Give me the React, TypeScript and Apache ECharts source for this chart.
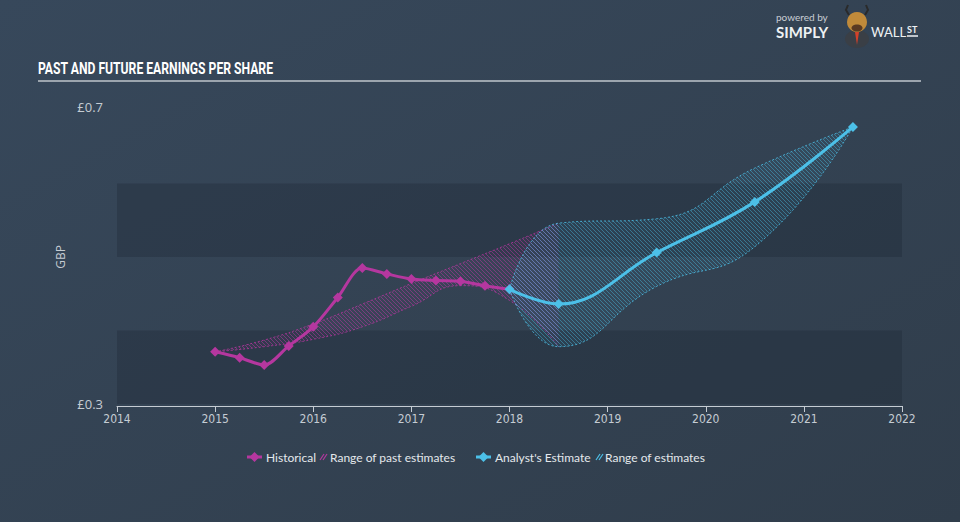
import React, { useEffect, useRef } from "react";
import * as echarts from "echarts";

// ---- data ----
const histYears = [2015, 2015.25, 2015.5, 2015.75, 2016, 2016.25, 2016.5, 2016.75, 2017, 2017.25, 2017.5, 2017.75, 2018];
const histEps = [0.371, 0.363, 0.353, 0.379, 0.405, 0.445, 0.485, 0.477, 0.470, 0.468, 0.467, 0.461, 0.456];

const estYears = [2018, 2018.5, 2019.5, 2020.5, 2021.5];
const estEps = [0.456, 0.436, 0.506, 0.575, 0.677];
const estLow = [0.456, 0.378, 0.460, 0.514, 0.677];
const estHigh = [0.456, 0.546, 0.552, 0.621, 0.677];

const pastYears = [2015, 2015.5, 2016, 2016.5, 2017, 2017.5, 2018, 2018.5];
const pastLow = [0.371, 0.378, 0.388, 0.405, 0.433, 0.461, 0.441, 0.378];
const pastHigh = [0.371, 0.387, 0.409, 0.436, 0.464, 0.491, 0.518, 0.546];

const yTickLabels = ["£0.3", "£0.7"];

const legendLabels = ["Historical", "Range of past estimates", "Analyst's Estimate", "Range of estimates"];

const MAGENTA = "#b5379f";
const CYAN = "#4cc0e8";
const NARROW = '"Liberation Sans Narrow", "DejaVu Sans Condensed", Roboto, sans-serif';

function hatch(color: string, bg: string) {
  const c = document.createElement("canvas");
  c.width = 4;
  c.height = 4;
  const ctx = c.getContext("2d")!;
  ctx.fillStyle = bg;
  ctx.fillRect(0, 0, 4, 4);
  ctx.strokeStyle = color;
  ctx.lineWidth = 1;
  ctx.beginPath();
  ctx.moveTo(0, 0);
  ctx.lineTo(4, 4);
  ctx.moveTo(-1, 3);
  ctx.lineTo(1, 5);
  ctx.moveTo(3, -1);
  ctx.lineTo(5, 1);
  ctx.stroke();
  return { image: c, repeat: "repeat" } as any;
}

// data rows are [eps, year] so that the stack is taken on the eps dimension
const rows = (xs: number[], ys: number[]) => xs.map((x, i) => [ys[i], x]);
const diffRows = (xs: number[], hi: number[], lo: number[]) => xs.map((x, i) => [+(hi[i] - lo[i]).toFixed(4), x]);

export default function App() {
  const ref = useRef<HTMLDivElement>(null);
  useEffect(() => {
    const chart = echarts.init(ref.current!, undefined, { renderer: "svg" });
    const magHatch = hatch("rgba(185,58,165,0.5)", "rgba(181,55,159,0.05)");
    const cyanHatch = hatch("rgba(76,192,232,0.42)", "rgba(76,192,232,0.06)");
    const lx = [247, 320, 476, 596];
    const tx = [266, 330, 495, 605];
    const ly = 457;
    const diamond = (cx: number, cy: number, r: number) => [[cx, cy - r], [cx + r, cy], [cx, cy + r], [cx - r, cy]];
    const labelFont = { fontFamily: "Lato", fontSize: 12, fill: "#e4e8ec" };
    const bandCommon = {
      type: "line",
      smooth: 0.5,
      symbol: "none",
      silent: true,
      dimensions: ["eps", "year"],
      encode: { x: "year", y: "eps" },
    };

    const option: any = {
      animation: false,
      backgroundColor: {
        type: "linear", x: 0, y: 0, x2: 1, y2: 1,
        colorStops: [{ offset: 0, color: "#37485b" }, { offset: 1, color: "#303d4b" }],
      },
      grid: { left: 117, right: 58, top: 110, bottom: 118 },
      xAxis: {
        type: "value",
        min: 2014,
        max: 2022,
        interval: 1,
        offset: 2,
        axisLine: { show: true, lineStyle: { color: "#c5ccd3", width: 1 } },
        axisTick: { show: true, length: 6, lineStyle: { color: "#c5ccd3" } },
        splitLine: { show: false },
        axisLabel: {
          color: "#c5ccd3",
          fontFamily: NARROW,
          fontSize: 12,
          margin: 7,
          formatter: (v: number) => String(v),
        },
      },
      yAxis: {
        type: "value",
        min: 0.3,
        max: 0.7,
        interval: 0.1,
        name: "GBP",
        nameLocation: "middle",
        nameGap: 33,
        nameRotate: 90,
        nameTextStyle: { color: "#c5ccd3", fontFamily: "Open Sans", fontSize: 12 },
        axisLine: { show: false },
        axisTick: { show: false },
        splitLine: { show: false },
        splitArea: { show: true, areaStyle: { color: ["rgba(28,38,50,0.30)", "rgba(0,0,0,0)"] } },
        axisLabel: {
          color: "#c5ccd3",
          fontFamily: "Open Sans",
          fontSize: 13,
          margin: 14,
          verticalAlign: "middle",
          formatter: (v: number) => {
            if (Math.abs(v - 0.3) < 1e-6) return yTickLabels[0];
            if (Math.abs(v - 0.7) < 1e-6) return "{top|" + yTickLabels[1] + "}";
            return "";
          },
          rich: { top: { color: "#c5ccd3", fontFamily: "Open Sans", fontSize: 13, padding: [0, 0, 6, 0] } },
        },
      },
      series: [
        {
          ...bandCommon,
          name: "pastLow",
          stack: "past",
          data: rows(pastYears, pastLow),
          lineStyle: { color: MAGENTA, width: 1, type: [2, 2], opacity: 0.8 },
          z: 1,
        },
        {
          ...bandCommon,
          name: legendLabels[1],
          stack: "past",
          data: diffRows(pastYears, pastHigh, pastLow),
          lineStyle: { color: MAGENTA, width: 1, type: [2, 2], opacity: 0.8 },
          areaStyle: { color: magHatch, opacity: 1 },
          z: 1,
        },
        {
          ...bandCommon,
          name: "estLow",
          stack: "est",
          data: rows(estYears, estLow),
          lineStyle: { color: CYAN, width: 1, type: [2, 2], opacity: 0.8 },
          z: 2,
        },
        {
          ...bandCommon,
          name: legendLabels[3],
          stack: "est",
          data: diffRows(estYears, estHigh, estLow),
          lineStyle: { color: CYAN, width: 1, type: [2, 2], opacity: 0.8 },
          areaStyle: { color: cyanHatch, opacity: 1 },
          z: 2,
        },
        {
          name: legendLabels[0],
          type: "line",
          smooth: 0.3,
          symbol: "diamond",
          symbolSize: 10,
          data: histYears.map((x, i) => [x, histEps[i]]),
          itemStyle: { color: MAGENTA },
          lineStyle: { color: MAGENTA, width: 3 },
          z: 5,
        },
        {
          name: legendLabels[2],
          type: "line",
          smooth: 0.4,
          symbol: "diamond",
          symbolSize: 10,
          data: estYears.map((x, i) => [x, estEps[i]]),
          itemStyle: { color: CYAN },
          lineStyle: { color: CYAN, width: 3 },
          z: 6,
        },
      ],
      graphic: [
        {
          type: "text", x: 38, y: 60, scaleX: 0.76,
          style: { text: "PAST AND FUTURE EARNINGS PER SHARE", fontFamily: "Roboto", fontWeight: "bold", fontSize: 16, fill: "#ffffff" },
        },
        { type: "line", shape: { x1: 38, y1: 81, x2: 921, y2: 81 }, style: { stroke: "#9ca5ae", lineWidth: 2 } },
        // logo
        { type: "text", x: 776, y: 12, style: { text: "powered by", fontFamily: "Lato", fontSize: 10, fill: "#c9ced4" } },
        { type: "text", x: 776, y: 24, style: { text: "SIMPLY", fontFamily: "Lato", fontWeight: "bold", fontSize: 15, fill: "#eef1f3" } },
        { type: "ellipse", shape: { cx: 857, cy: 39, rx: 12, ry: 9 }, style: { fill: "#3a3f46" } },
        { type: "polygon", shape: { points: [[855, 32], [859, 32], [857, 45]] }, style: { fill: "#d2412a" } },
        { type: "circle", shape: { cx: 857, cy: 22, r: 10 }, style: { fill: "#c08a3a" } },
        { type: "ellipse", shape: { cx: 857, cy: 28, rx: 5.5, ry: 3.5 }, style: { fill: "#5a3a22" } },
        { type: "polyline", shape: { points: [[849, 15], [846, 10], [848, 5]] }, style: { stroke: "#2a2a2a", lineWidth: 2, fill: "none" } },
        { type: "polyline", shape: { points: [[865, 15], [868, 10], [866, 5]] }, style: { stroke: "#2a2a2a", lineWidth: 2, fill: "none" } },
        { type: "text", x: 871, y: 25, style: { text: "WALL", fontFamily: "Lato", fontWeight: "normal", fontSize: 13, fill: "#eef1f3" } },
        { type: "text", x: 907, y: 25, style: { text: "ST", fontFamily: "Lato", fontWeight: "bold", fontSize: 9, fill: "#eef1f3" } },
        { type: "line", shape: { x1: 907, y1: 36, x2: 918, y2: 36 }, style: { stroke: "#eef1f3", lineWidth: 1.5 } },
        // legend
        { type: "line", shape: { x1: lx[0], y1: ly, x2: lx[0] + 15, y2: ly }, style: { stroke: MAGENTA, lineWidth: 3 } },
        { type: "polygon", shape: { points: diamond(lx[0] + 7.5, ly, 5) }, style: { fill: MAGENTA } },
        { type: "text", x: tx[0], y: ly, style: { text: legendLabels[0], verticalAlign: "middle", ...labelFont } },
        { type: "line", shape: { x1: lx[1], y1: ly + 3, x2: lx[1] + 4, y2: ly - 3 }, style: { stroke: MAGENTA, lineWidth: 1.2 } },
        { type: "line", shape: { x1: lx[1] + 3, y1: ly + 3, x2: lx[1] + 7, y2: ly - 3 }, style: { stroke: MAGENTA, lineWidth: 1.2 } },
        { type: "text", x: tx[1], y: ly, style: { text: legendLabels[1], verticalAlign: "middle", ...labelFont } },
        { type: "line", shape: { x1: lx[2], y1: ly, x2: lx[2] + 15, y2: ly }, style: { stroke: CYAN, lineWidth: 3 } },
        { type: "polygon", shape: { points: diamond(lx[2] + 7.5, ly, 5) }, style: { fill: CYAN } },
        { type: "text", x: tx[2], y: ly, style: { text: legendLabels[2], verticalAlign: "middle", ...labelFont } },
        { type: "line", shape: { x1: lx[3], y1: ly + 3, x2: lx[3] + 4, y2: ly - 3 }, style: { stroke: CYAN, lineWidth: 1.2 } },
        { type: "line", shape: { x1: lx[3] + 3, y1: ly + 3, x2: lx[3] + 7, y2: ly - 3 }, style: { stroke: CYAN, lineWidth: 1.2 } },
        { type: "text", x: tx[3], y: ly, style: { text: legendLabels[3], verticalAlign: "middle", ...labelFont } },
      ],
    };
    chart.setOption(option);
    return () => chart.dispose();
  }, []);
  return <div ref={ref} style={{ width: 960, height: 522, position: "fixed", left: 0, top: 0 }} />;
}
